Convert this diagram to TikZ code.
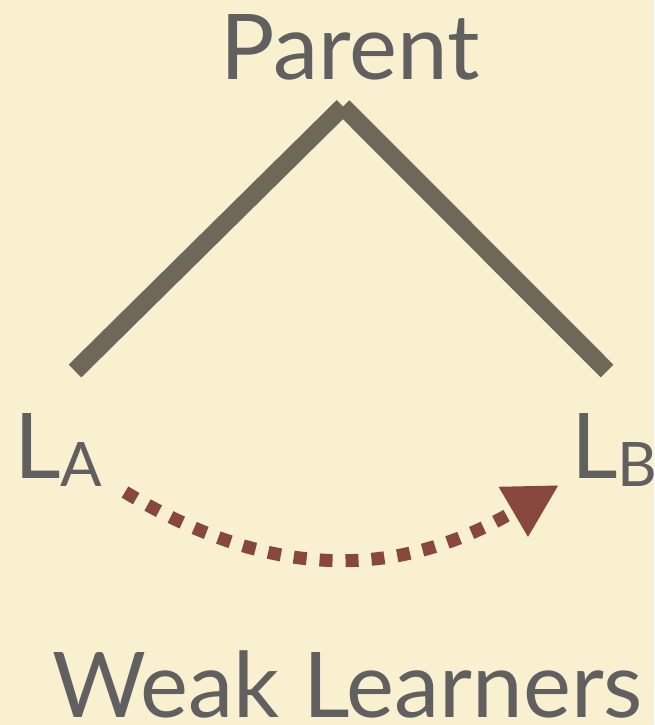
\documentclass[tikz,border=0pt]{standalone}
\usepackage{fontspec}
\setmainfont{Lato}
\usetikzlibrary{arrows.meta}
\definecolor{paper}{RGB}{249,240,208}
\definecolor{ink}{RGB}{96,96,96}
\definecolor{branch}{RGB}{110,104,88}
\definecolor{rust}{RGB}{135,71,60}
\begin{document}
\begin{tikzpicture}[x=1pt,y=-1pt,
  labeltext/.style={inner sep=0pt, text=ink, font=\fontsize{90.7}{100}\selectfont},
  branchline/.style={draw=branch, line width=18pt, line cap=butt},
  transfer/.style={draw=rust, line width=13pt, line cap=butt,
    dash pattern=on 13pt off 13pt,
    -{Triangle[length=53pt,width=54pt]}}]
  % paper background and fixed frame
  \fill[paper] (0,0) rectangle (654,725);
  \useasboundingbox (0,0) rectangle (654,725);

  % labels
  \node[labeltext, anchor=base] (parent) at (350,79) {Parent};
  \node[labeltext, anchor=base west] (la) at (14,478)
    {L\raisebox{-8pt}{\fontsize{61.4}{70}\selectfont A}};
  \node[labeltext, anchor=base west] (lb) at (571,478)
    {L\raisebox{-8pt}{\fontsize{61.4}{70}\selectfont B}};
  \node[labeltext, anchor=base] (weak) at (347.5,717) {Weak Learners};

  % tree branches
  \coordinate (apex) at (343,106.5);
  \coordinate (leftend) at (75,371);
  \coordinate (rightend) at (607,371);
  \draw[branchline] (apex) -- (leftend);
  \draw[branchline] (apex) -- (rightend);

  % transfer arrow between the two learners
  \coordinate (astart) at (125,492);
  \coordinate (aend) at (559,485);
  \draw[transfer] (astart) .. controls (279,585) and (404,576) .. (aend);
\end{tikzpicture}
\end{document}
